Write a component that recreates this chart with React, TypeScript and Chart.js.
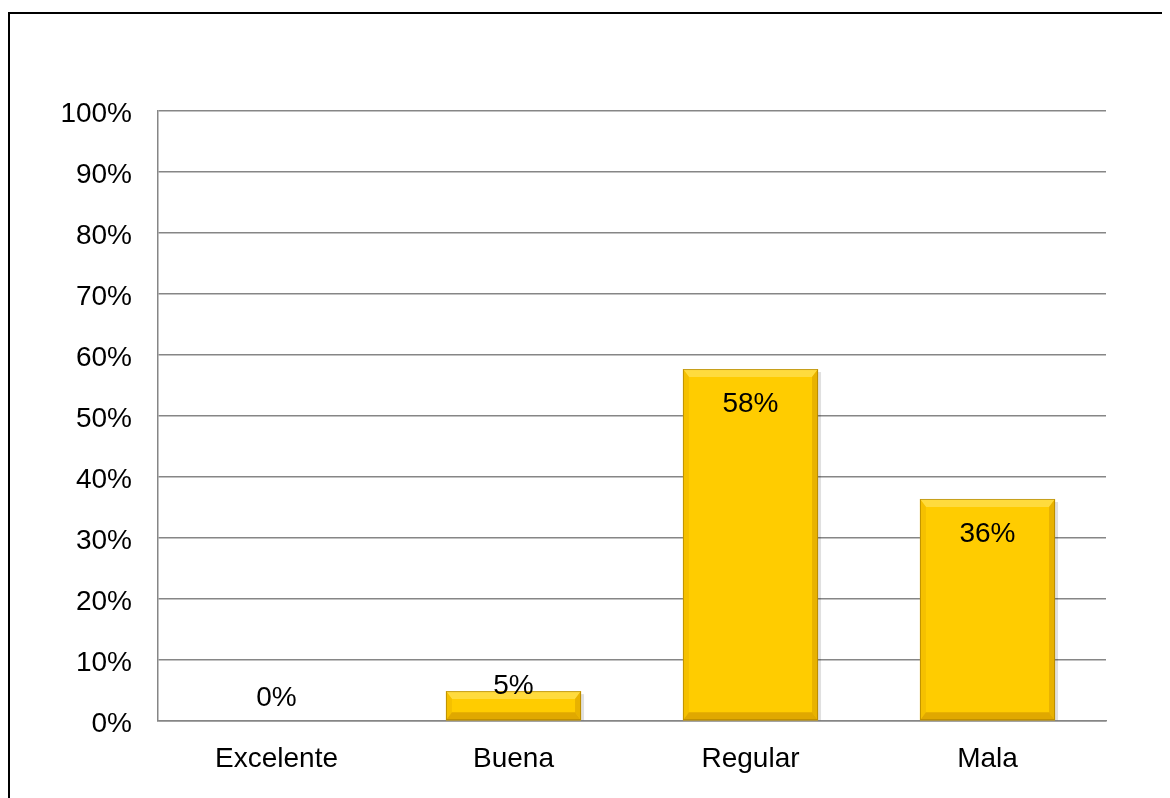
import React, { useEffect, useRef } from "react";
import { Chart, registerables } from "chart.js";

Chart.register(...registerables);

const categories = ["Excelente", "Buena", "Regular", "Mala"];
const values = [0, 4.9, 57.7, 36.4];
const valueLabels = ["0%", "5%", "58%", "36%"];
const yTicks = [0, 10, 20, 30, 40, 50, 60, 70, 80, 90, 100];

const FONT = "'Liberation Sans', Arial, sans-serif";

const bevelPlugin = {
  id: "bevel",
  afterDatasetsDraw(chart: any) {
    const ctx = chart.ctx;
    const meta = chart.getDatasetMeta(0);
    meta.data.forEach((bar: any, i: number) => {
      const { x, y, base, width } = bar.getProps(["x", "y", "base", "width"], true);
      const h = base - y;
      const l = x - width / 2;
      const r = x + width / 2;
      ctx.save();
      if (h > 0.5) {
        const b = Math.min(8, h / 2);
        const s = Math.min(6, width / 2);
        ctx.fillStyle = "#FFDB3D";
        ctx.beginPath();
        ctx.moveTo(l, y);
        ctx.lineTo(r, y);
        ctx.lineTo(r - s, y + b);
        ctx.lineTo(l + s, y + b);
        ctx.closePath();
        ctx.fill();
        ctx.fillStyle = "#F5C000";
        ctx.beginPath();
        ctx.moveTo(l, y);
        ctx.lineTo(l + s, y + b);
        ctx.lineTo(l + s, base - b);
        ctx.lineTo(l, base);
        ctx.closePath();
        ctx.fill();
        ctx.fillStyle = "#E8B200";
        ctx.beginPath();
        ctx.moveTo(r, y);
        ctx.lineTo(r - s, y + b);
        ctx.lineTo(r - s, base - b);
        ctx.lineTo(r, base);
        ctx.closePath();
        ctx.fill();
        ctx.fillStyle = "#E0A800";
        ctx.beginPath();
        ctx.moveTo(l, base);
        ctx.lineTo(l + s, base - b);
        ctx.lineTo(r - s, base - b);
        ctx.lineTo(r, base);
        ctx.closePath();
        ctx.fill();
        ctx.strokeStyle = "rgba(150,110,0,0.55)";
        ctx.lineWidth = 1;
        ctx.strokeRect(l + 0.5, y + 0.5, width - 1, h - 1);
        ctx.fillStyle = "rgba(0,0,0,0.12)";
        ctx.fillRect(r, y + 3, 3, h - 3);
      }
      ctx.fillStyle = "#000";
      ctx.font = `28px ${FONT}`;
      ctx.textAlign = "center";
      ctx.textBaseline = "middle";
      const ly = h >= 60 ? y + 35 : y - 23 + h * 0.63;
      ctx.fillText(valueLabels[i], x, ly);
      ctx.restore();
    });
  },
};

export default function App() {
  const ref = useRef<HTMLCanvasElement>(null);
  useEffect(() => {
    if (!ref.current) return;
    const chart = new Chart(ref.current, {
      type: "bar",
      data: {
        labels: categories,
        datasets: [
          {
            data: values,
            backgroundColor: "#FFCC00",
            borderWidth: 0,
            barPercentage: 0.57,
            categoryPercentage: 1,
          },
        ],
      },
      options: {
        responsive: false,
        animation: false,
        devicePixelRatio: 1,
        layout: { padding: { left: 0, right: 64, top: 111, bottom: 0 } },
        plugins: { legend: { display: false }, tooltip: { enabled: false } },
        scales: {
          x: {
            grid: { display: false, drawTicks: false },
            border: { display: true, color: "#868686", width: 1.5 },
            ticks: {
              color: "#000",
              font: { family: FONT, size: 28 },
              padding: 21,
              maxRotation: 0,
            },
            afterFit(scale: any) {
              scale.height = 77;
            },
          },
          y: {
            min: 0,
            max: 100,
            afterBuildTicks(scale: any) {
              scale.ticks = yTicks.map((v) => ({ value: v }));
            },
            grid: { color: "#868686", lineWidth: 1.5, drawTicks: false },
            border: { display: true, color: "#868686", width: 1.5 },
            ticks: {
              color: "#000",
              font: { family: FONT, size: 28 },
              padding: 26,
              labelOffset: 3,
              callback: (v: any) => `${v}%`,
            },
            afterFit(scale: any) {
              scale.width = 158;
            },
          },
        },
      },
      plugins: [bevelPlugin],
    });
    return () => chart.destroy();
  }, []);

  return (
    <div style={{ position: "relative", width: 1170, height: 798 }}>
      <div
        style={{
          position: "absolute",
          left: 0,
          top: 4,
          width: 1200,
          height: 820,
          border: "2px solid #000",
          boxSizing: "border-box",
        }}
      />
      <canvas
        ref={ref}
        width={1170}
        height={798}
        style={{ position: "absolute", left: -8, top: -8 }}
      />
    </div>
  );
}
